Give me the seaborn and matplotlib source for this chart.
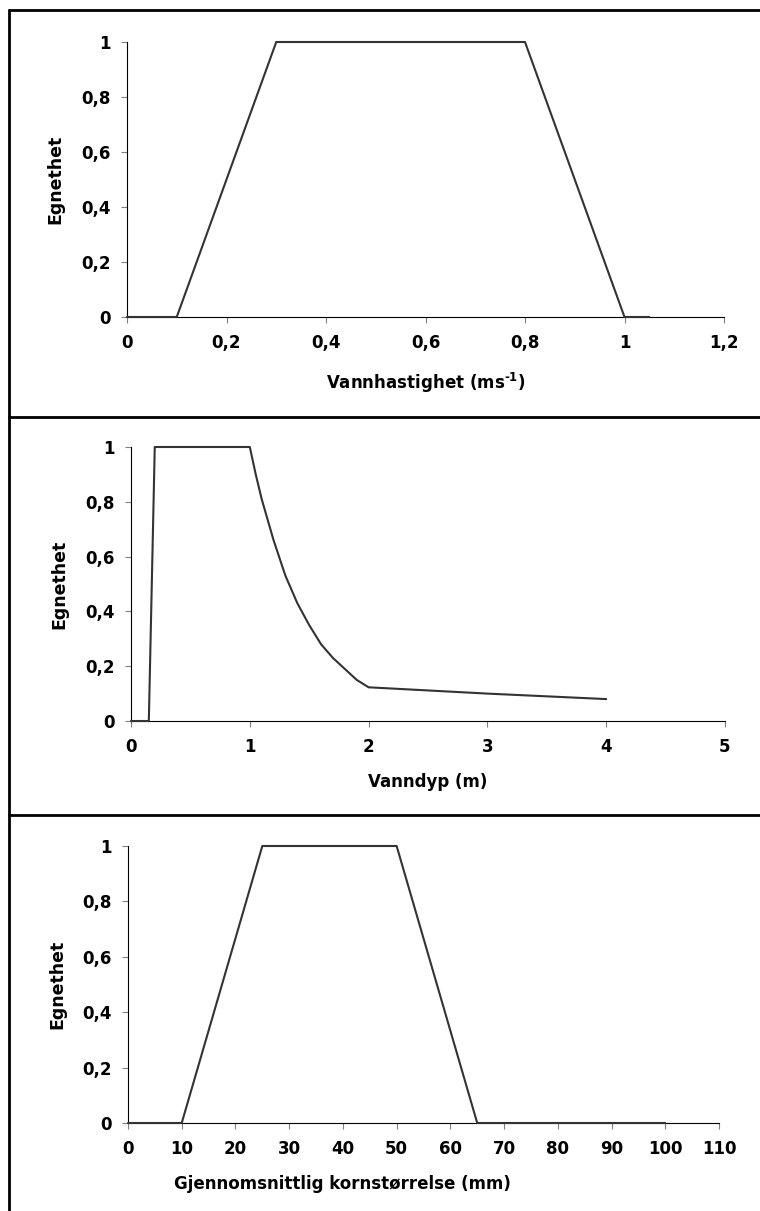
import numpy as np
import pandas as pd
import matplotlib
matplotlib.use('Agg')
import matplotlib.pyplot as plt
from matplotlib.lines import Line2D
import seaborn as sns

# Panel 1: water velocity
vel_x = [0, 0.1, 0.3, 0.8, 1.0, 1.05]
vel_y = [0, 0, 1, 1, 0, 0]
vel_ticks = [0, 0.2, 0.4, 0.6, 0.8, 1.0, 1.2]
vel_ticklabels = ['0', '0,2', '0,4', '0,6', '0,8', '1', '1,2']

# Panel 2: water depth (curve)
dep_x = [0, 0.15, 0.2, 1.0, 1.05, 1.1, 1.2, 1.3, 1.4, 1.5, 1.6, 1.7, 1.8, 1.9, 2.0, 3.0, 4.0]
dep_y = [0, 0, 1, 1, 0.90, 0.81, 0.66, 0.53, 0.43, 0.35, 0.28, 0.23, 0.19, 0.15, 0.123, 0.10, 0.08]
dep_ticks = [0, 1, 2, 3, 4, 5]
dep_ticklabels = ['0', '1', '2', '3', '4', '5']

# Panel 3: grain size
grain_x = [0, 10, 25, 50, 65, 100]
grain_y = [0, 0, 1, 1, 0, 0]
grain_ticks = list(range(0, 111, 10))
grain_ticklabels = [str(t) for t in grain_ticks]

y_ticks = [0, 0.2, 0.4, 0.6, 0.8, 1.0]
y_ticklabels = ['0', '0,2', '0,4', '0,6', '0,8', '1']

sns.set_style('white')
plt.rcParams['font.family'] = ['DejaVu Sans']
plt.rcParams['font.weight'] = 'bold'
plt.rcParams['text.color'] = 'black'
plt.rcParams['axes.labelcolor'] = 'black'
plt.rcParams['xtick.labelcolor'] = 'black'
plt.rcParams['ytick.labelcolor'] = 'black'
plt.rcParams['mathtext.fontset'] = 'custom'
plt.rcParams['mathtext.rm'] = 'DejaVu Sans:bold'
plt.rcParams['mathtext.bf'] = 'DejaVu Sans:bold'

W, H = 760, 1211
fig = plt.figure(figsize=(W / 100, H / 100), dpi=100)


def px_axes(left, right, top, bottom):
    return fig.add_axes([left / W, 1 - bottom / H, (right - left) / W, (bottom - top) / H])


panels = [
    dict(box=(127, 724, 42, 317), x=vel_x, y=vel_y, xlim=(0, 1.2), ticks=vel_ticks,
         labels=vel_ticklabels, xlabel=r'Vannhastighet (ms$^{\text{-1}}$)', xlab_pos=(0.5, -0.195)),
    dict(box=(131, 725, 447, 721), x=dep_x, y=dep_y, xlim=(0, 5), ticks=dep_ticks,
         labels=dep_ticklabels, xlabel='Vanndyp (m)', xlab_pos=(0.5, -0.19)),
    dict(box=(128, 719, 846, 1123), x=grain_x, y=grain_y, xlim=(0, 110), ticks=grain_ticks,
         labels=grain_ticklabels, xlabel='Gjennomsnittlig kornstørrelse (mm)', xlab_pos=(0.362, -0.188)),
]

for p in panels:
    ax = px_axes(*p['box'])
    df = pd.DataFrame({'x': p['x'], 'y': p['y']})
    sns.lineplot(data=df, x='x', y='y', ax=ax, color='#333333', linewidth=1.5,
                 estimator=None, sort=False, clip_on=False, zorder=5)
    ax.set_xlim(*p['xlim'])
    ax.set_ylim(0, 1)
    ax.set_xticks(p['ticks'])
    ax.set_xticklabels(p['labels'])
    ax.set_yticks(y_ticks)
    ax.set_yticklabels(y_ticklabels)
    for s in ['top', 'right']:
        ax.spines[s].set_visible(False)
    for s in ['left', 'bottom']:
        ax.spines[s].set_color('black')
        ax.spines[s].set_linewidth(0.8)
    ax.tick_params(axis='both', which='major', direction='out', length=4, width=0.8,
                   color='#808080', labelcolor='black', labelsize=12, pad=8,
                   bottom=True, left=True)
    ax.set_xlabel(p['xlabel'], fontsize=12, fontweight='bold', va='top', color='black')
    ax.xaxis.set_label_coords(*p['xlab_pos'])
    ax.set_ylabel('Egnethet', fontsize=12.5, fontweight='bold', color='black')
    ax.yaxis.set_label_coords(-0.105, 0.5)
    ax.grid(False)

# Frame lines around the panels
lw = 2.0
def hline(y):
    fig.add_artist(Line2D([8.7 / W, 1], [1 - y / H, 1 - y / H], color='black', lw=lw))

fig.add_artist(Line2D([8.7 / W, 8.7 / W], [1 - 10 / H, 0], color='black', lw=lw))
hline(10)
hline(417)
hline(814.5)

fig.savefig('out.png', dpi=100)
